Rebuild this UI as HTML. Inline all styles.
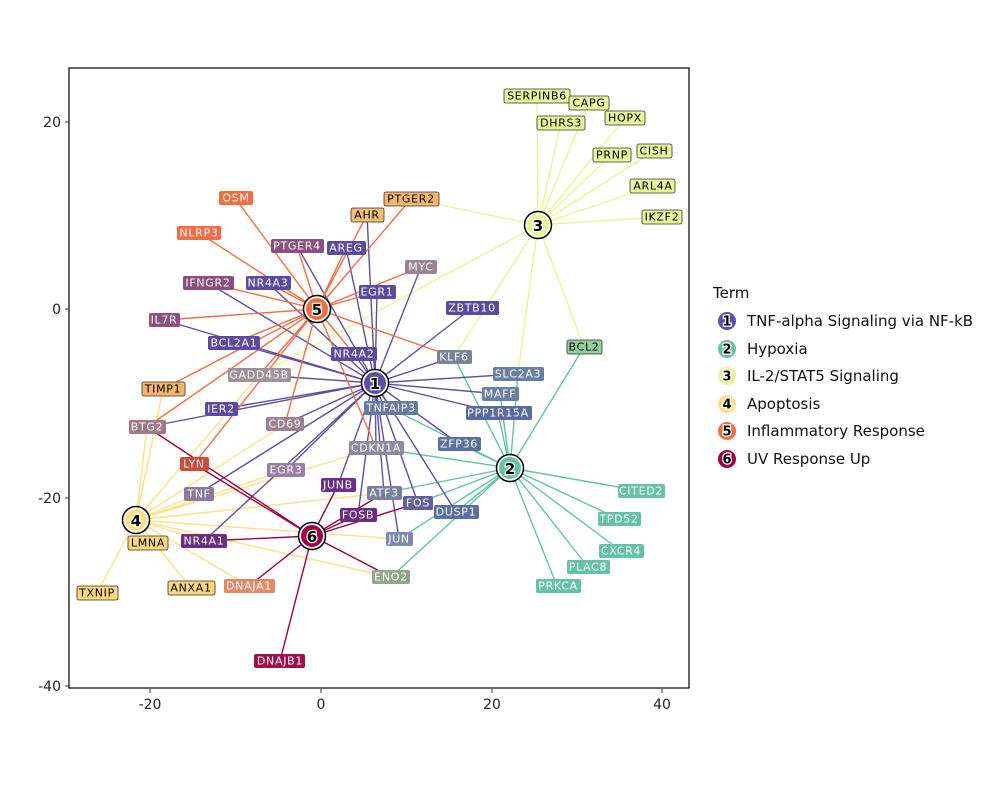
<!DOCTYPE html>
<html><head><meta charset="utf-8"><style>
body{margin:0;background:#fff}
svg text{font-family:"DejaVu Sans","Liberation Sans",sans-serif}
.g text{font-size:11px;letter-spacing:0.7px;text-anchor:middle;dominant-baseline:central}
.w{fill:#fff}
.k{fill:#000}
.t{font-size:15px;font-weight:bold;text-anchor:middle;dominant-baseline:central;fill:#000;stroke:#fff;stroke-width:2.5px;paint-order:stroke}
.ax{font-size:14px;fill:#222}
.lg{font-size:15px;fill:#111}
</style></head><body>
<svg width="1000" height="800" viewBox="0 0 1000 800" xmlns="http://www.w3.org/2000/svg">
<rect width="1000" height="800" fill="#fff"/>
<g stroke-width="1.4" fill="none">
<g stroke="#e6f598">
<path d="M538 225L537 96M538 225L589 103M538 225L561 123M538 225L625 118M538 225L611 155M538 225L654 151M538 225L653 186M538 225L662 217M538 225L584 347M538 225L411 199M538 225L518 374M538 225L454 357M538 225L259 375"/>
</g>
<g stroke="#fee08b">
<path d="M136 520L163 389M136 520L147 427M136 520L259 375M136 520L285 424M136 520L376 448M136 520L286 470M136 520L198 494M136 520L384 493M136 520L204 541M136 520L148 543M136 520L399 539M136 520L391 577M136 520L191 588M136 520L249 586M136 520L97 593"/>
</g>
<g stroke="#66c2a5">
<path d="M510 468L584 347M510 468L454 357M510 468L518 374M510 468L500 394M510 468L390 408M510 468L498 413M510 468L459 444M510 468L376 448M510 468L384 493M510 468L456 512M510 468L399 539M510 468L641 491M510 468L619 519M510 468L621 551M510 468L588 567M510 468L557 586M510 468L391 577M510 468L418 503"/>
</g>
<g stroke="#5e4fa2">
<path d="M375 383L297 246M375 383L346 248M375 383L421 267M375 383L208 283M375 383L268 283M375 383L377 292M375 383L472 308M375 383L164 320M375 383L234 343M375 383L354 354M375 383L454 357M375 383L518 374M375 383L500 394M375 383L259 375M375 383L221 409M375 383L390 408M375 383L498 413M375 383L147 427M375 383L285 424M375 383L459 444M375 383L376 448M375 383L286 470M375 383L338 485M375 383L198 494M375 383L384 493M375 383L418 503M375 383L358 515M375 383L456 512M375 383L204 541M375 383L399 539M375 383L367 215"/>
</g>
<g stroke="#f46d43">
<path d="M317 309L411 199M317 309L367 215M317 309L235 198M317 309L199 233M317 309L297 246M317 309L346 248M317 309L421 267M317 309L208 283M317 309L268 283M317 309L377 292M317 309L164 320M317 309L234 343M317 309L354 354M317 309L454 357M317 309L163 389M317 309L259 375M317 309L147 427M317 309L285 424M317 309L194 464M317 309L376 448"/>
</g>
<g stroke="#9e0142">
<path d="M312 536L147 427M312 536L194 464M312 536L338 485M312 536L384 493M312 536L418 503M312 536L358 515M312 536L204 541M312 536L391 577M312 536L249 586M312 536L280 661"/>
</g>
</g>
<rect x="69" y="68" width="620" height="620" fill="none" stroke="#000" stroke-width="1.2"/>
<g class="g">
<rect x="504" y="89" width="66" height="14" rx="2" fill="#e6f598" stroke="#333" stroke-width="0.8"/><text x="537" y="96" class="k">SERPINB6</text>
<rect x="569" y="96" width="40" height="14" rx="2" fill="#e6f598" stroke="#333" stroke-width="0.8"/><text x="589" y="103" class="k">CAPG</text>
<rect x="537" y="116" width="48" height="14" rx="2" fill="#e6f598" stroke="#333" stroke-width="0.8"/><text x="561" y="123" class="k">DHRS3</text>
<rect x="605" y="111" width="40" height="14" rx="2" fill="#e6f598" stroke="#333" stroke-width="0.8"/><text x="625" y="118" class="k">HOPX</text>
<rect x="593" y="148" width="38" height="14" rx="2" fill="#e6f598" stroke="#333" stroke-width="0.8"/><text x="612" y="155" class="k">PRNP</text>
<rect x="637" y="144" width="35" height="14" rx="2" fill="#e6f598" stroke="#333" stroke-width="0.8"/><text x="654" y="151" class="k">CISH</text>
<rect x="630" y="179" width="45" height="14" rx="2" fill="#e6f598" stroke="#333" stroke-width="0.8"/><text x="653" y="186" class="k">ARL4A</text>
<rect x="642" y="210" width="40" height="14" rx="2" fill="#e6f598" stroke="#333" stroke-width="0.8"/><text x="662" y="217" class="k">IKZF2</text>
<rect x="567" y="340" width="35" height="14" rx="2" fill="#8fd19e" stroke="#333" stroke-width="0.8"/><text x="584" y="347" class="k">BCL2</text>
<rect x="384" y="192" width="55" height="14" rx="2" fill="#f6b56a" stroke="#333" stroke-width="0.8"/><text x="411" y="199" class="k">PTGER2</text>
<rect x="351" y="208" width="33" height="14" rx="2" fill="#f0c070" stroke="#333" stroke-width="0.8"/><text x="367" y="215" class="k">AHR</text>
<rect x="219" y="191" width="34" height="14" rx="2" fill="#f46d43"/><text x="236" y="198" class="w">OSM</text>
<rect x="177" y="226" width="44" height="14" rx="2" fill="#f46d43"/><text x="199" y="233" class="w">NLRP3</text>
<rect x="271" y="239" width="53" height="14" rx="2" fill="#8c5080"/><text x="297" y="246" class="w">PTGER4</text>
<rect x="327" y="241" width="39" height="14" rx="2" fill="#5a4ba0"/><text x="346" y="248" class="w">AREG</text>
<rect x="405" y="260" width="32" height="14" rx="2" fill="#9a8494"/><text x="421" y="267" class="w">MYC</text>
<rect x="183" y="276" width="51" height="14" rx="2" fill="#8c5080"/><text x="208" y="283" class="w">IFNGR2</text>
<rect x="246" y="276" width="45" height="14" rx="2" fill="#5a4ba0"/><text x="268" y="283" class="w">NR4A3</text>
<rect x="359" y="285" width="37" height="14" rx="2" fill="#5a4ba0"/><text x="377" y="292" class="w">EGR1</text>
<rect x="446" y="301" width="53" height="14" rx="2" fill="#5a4ba0"/><text x="472" y="308" class="w">ZBTB10</text>
<rect x="149" y="313" width="31" height="14" rx="2" fill="#8c5080"/><text x="164" y="320" class="w">IL7R</text>
<rect x="208" y="336" width="52" height="14" rx="2" fill="#5a4ba0"/><text x="234" y="343" class="w">BCL2A1</text>
<rect x="331" y="347" width="46" height="14" rx="2" fill="#5a4ba0"/><text x="354" y="354" class="w">NR4A2</text>
<rect x="437" y="350" width="35" height="14" rx="2" fill="#7a8498"/><text x="454" y="357" class="w">KLF6</text>
<rect x="493" y="367" width="51" height="14" rx="2" fill="#6a80a0"/><text x="518" y="374" class="w">SLC2A3</text>
<rect x="482" y="387" width="37" height="14" rx="2" fill="#6a80a0"/><text x="500" y="394" class="w">MAFF</text>
<rect x="466" y="406" width="66" height="14" rx="2" fill="#5a6aa0"/><text x="498" y="413" class="w">PPP1R15A</text>
<rect x="142" y="382" width="43" height="14" rx="2" fill="#f6b56a" stroke="#333" stroke-width="0.8"/><text x="163" y="389" class="k">TIMP1</text>
<rect x="228" y="368" width="63" height="14" rx="2" fill="#a09098"/><text x="259" y="375" class="w">GADD45B</text>
<rect x="205" y="402" width="33" height="14" rx="2" fill="#5a4ba0"/><text x="221" y="409" class="w">IER2</text>
<rect x="364" y="401" width="54" height="14" rx="2" fill="#6478a0"/><text x="391" y="408" class="w">TNFAIP3</text>
<rect x="129" y="420" width="37" height="14" rx="2" fill="#a07888"/><text x="147" y="427" class="w">BTG2</text>
<rect x="266" y="417" width="38" height="14" rx="2" fill="#a08090"/><text x="285" y="424" class="w">CD69</text>
<rect x="438" y="437" width="43" height="14" rx="2" fill="#5a70a0"/><text x="459" y="444" class="w">ZFP36</text>
<rect x="349" y="441" width="55" height="14" rx="2" fill="#8a8aa0"/><text x="376" y="448" class="w">CDKN1A</text>
<rect x="180" y="457" width="29" height="14" rx="2" fill="#d04a3c"/><text x="194" y="464" class="w">LYN</text>
<rect x="267" y="463" width="38" height="14" rx="2" fill="#9a80a0"/><text x="286" y="470" class="w">EGR3</text>
<rect x="321" y="478" width="35" height="14" rx="2" fill="#6a3088"/><text x="338" y="485" class="w">JUNB</text>
<rect x="184" y="487" width="30" height="14" rx="2" fill="#8a7aa0"/><text x="199" y="494" class="w">TNF</text>
<rect x="367" y="486" width="35" height="14" rx="2" fill="#7a80a0"/><text x="384" y="493" class="w">ATF3</text>
<rect x="403" y="496" width="30" height="14" rx="2" fill="#64609a"/><text x="418" y="503" class="w">FOS</text>
<rect x="340" y="508" width="37" height="14" rx="2" fill="#6a2e80"/><text x="358" y="515" class="w">FOSB</text>
<rect x="434" y="505" width="45" height="14" rx="2" fill="#5a70a0"/><text x="456" y="512" class="w">DUSP1</text>
<rect x="181" y="534" width="46" height="14" rx="2" fill="#6a2e80"/><text x="204" y="541" class="w">NR4A1</text>
<rect x="128" y="536" width="40" height="14" rx="2" fill="#fdd878" stroke="#333" stroke-width="0.8"/><text x="148" y="543" class="k">LMNA</text>
<rect x="386" y="532" width="27" height="14" rx="2" fill="#7a8ab0"/><text x="399" y="539" class="w">JUN</text>
<rect x="618" y="484" width="47" height="14" rx="2" fill="#66c2a5"/><text x="641" y="491" class="w">CITED2</text>
<rect x="598" y="512" width="43" height="14" rx="2" fill="#66c2a5"/><text x="619" y="519" class="w">TPD52</text>
<rect x="599" y="544" width="45" height="14" rx="2" fill="#66c2a5"/><text x="621" y="551" class="w">CXCR4</text>
<rect x="567" y="560" width="43" height="14" rx="2" fill="#66c2a5"/><text x="588" y="567" class="w">PLAC8</text>
<rect x="536" y="579" width="45" height="14" rx="2" fill="#66c2a5"/><text x="558" y="586" class="w">PRKCA</text>
<rect x="372" y="570" width="38" height="14" rx="2" fill="#90a88a"/><text x="391" y="577" class="w">ENO2</text>
<rect x="168" y="581" width="47" height="14" rx="2" fill="#fdd878" stroke="#333" stroke-width="0.8"/><text x="191" y="588" class="k">ANXA1</text>
<rect x="224" y="579" width="51" height="14" rx="2" fill="#e08a6a"/><text x="249" y="586" class="w">DNAJA1</text>
<rect x="77" y="586" width="41" height="14" rx="2" fill="#fdd878" stroke="#333" stroke-width="0.8"/><text x="97" y="593" class="k">TXNIP</text>
<rect x="254" y="654" width="51" height="14" rx="2" fill="#a0104a"/><text x="280" y="661" class="w">DNAJB1</text>
</g>
<g>
<circle cx="375" cy="383" r="12" fill="#5e4fa2" stroke="#fff" stroke-width="2"/><circle cx="375" cy="383" r="13.5" fill="none" stroke="#000" stroke-width="1.5"/><text x="375" y="384" class="t">1</text>
<circle cx="510" cy="468" r="12" fill="#66c2a5" stroke="#fff" stroke-width="2"/><circle cx="510" cy="468" r="13.5" fill="none" stroke="#000" stroke-width="1.5"/><text x="510" y="469" class="t">2</text>
<circle cx="538" cy="225" r="12" fill="#e6f598" stroke="#fff" stroke-width="2"/><circle cx="538" cy="225" r="13.5" fill="none" stroke="#000" stroke-width="1.5"/><text x="538" y="226" class="t">3</text>
<circle cx="136" cy="520" r="12" fill="#fee08b" stroke="#fff" stroke-width="2"/><circle cx="136" cy="520" r="13.5" fill="none" stroke="#000" stroke-width="1.5"/><text x="136" y="521" class="t">4</text>
<circle cx="317" cy="309" r="12" fill="#f46d43" stroke="#fff" stroke-width="2"/><circle cx="317" cy="309" r="13.5" fill="none" stroke="#000" stroke-width="1.5"/><text x="317" y="310" class="t">5</text>
<circle cx="312" cy="536" r="12" fill="#9e0142" stroke="#fff" stroke-width="2"/><circle cx="312" cy="536" r="13.5" fill="none" stroke="#000" stroke-width="1.5"/><text x="312" y="537" class="t">6</text>
</g>
<g stroke="#333" stroke-width="1">
<path d="M65 122H69M65 309H69M65 498H69M65 686H69M150 689V693M321 689V693M492 689V693M662 689V693"/>
</g>
<g class="ax">
<text x="61" y="127" text-anchor="end">20</text>
<text x="61" y="314" text-anchor="end">0</text>
<text x="61" y="503" text-anchor="end">-20</text>
<text x="61" y="691" text-anchor="end">-40</text>
<text x="150" y="709" text-anchor="middle">-20</text>
<text x="321" y="709" text-anchor="middle">0</text>
<text x="492" y="709" text-anchor="middle">20</text>
<text x="662" y="709" text-anchor="middle">40</text>
</g>
<text x="713" y="298" class="lg">Term</text>
<g>
<circle cx="727" cy="321" r="9" fill="#5e4fa2"/><text x="727" y="322" class="t" style="font-size:13px">1</text><text x="747" y="326" class="lg">TNF-alpha Signaling via NF-kB</text>
<circle cx="727" cy="349" r="9" fill="#66c2a5"/><text x="727" y="350" class="t" style="font-size:13px">2</text><text x="747" y="354" class="lg">Hypoxia</text>
<circle cx="727" cy="376" r="9" fill="#e6f598"/><text x="727" y="377" class="t" style="font-size:13px">3</text><text x="747" y="381" class="lg">IL-2/STAT5 Signaling</text>
<circle cx="727" cy="404" r="9" fill="#fee08b"/><text x="727" y="405" class="t" style="font-size:13px">4</text><text x="747" y="409" class="lg">Apoptosis</text>
<circle cx="727" cy="431" r="9" fill="#f46d43"/><text x="727" y="432" class="t" style="font-size:13px">5</text><text x="747" y="436" class="lg">Inflammatory Response</text>
<circle cx="727" cy="459" r="9" fill="#9e0142"/><text x="727" y="460" class="t" style="font-size:13px">6</text><text x="747" y="464" class="lg">UV Response Up</text>
</g>
</svg>
</body></html>
